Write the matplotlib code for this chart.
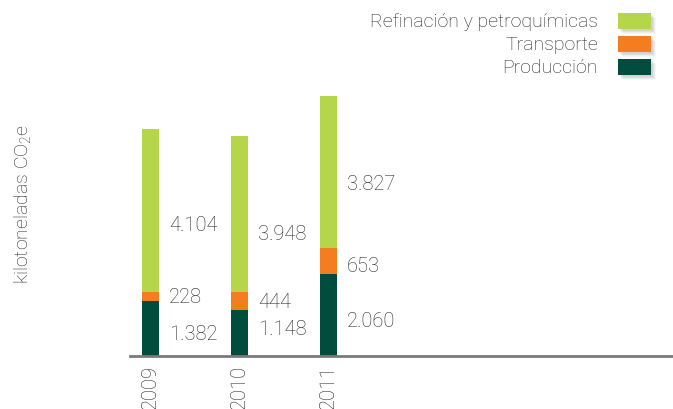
import matplotlib
matplotlib.use('Agg')
import matplotlib.pyplot as plt
from matplotlib.patches import Rectangle
import numpy as np

# Emisiones por año (kilotoneladas CO2e)
years = ['2009', '2010', '2011']
produccion = [1382, 1148, 2060]
transporte = [228, 444, 653]
refinacion = [4104, 3948, 3827]

series_names = ['Producción', 'Transporte', 'Refinación y petroquímicas']
series_values = [produccion, transporte, refinacion]
series_colors = ['#004d3e', '#f47d20', '#b5d54b']

# label nudges (pixels) so the numbers sit a little off the segment centre
label_shift = [[-5, 4, -6], [0, 0, -5], [-14, -20, -12]]

def fmt(v):
    return f'{v:,}'.replace(',', '.')

plt.rcParams['font.family'] = ['Roboto', 'DejaVu Sans']
plt.rcParams['font.weight'] = 'light'
plt.rcParams['mathtext.fontset'] = 'custom'
plt.rcParams['mathtext.rm'] = 'Roboto:light'
plt.rcParams['mathtext.it'] = 'Roboto:light'
text_color = '#262626'

W, H = 673, 410
fig = plt.figure(figsize=(W / 100, H / 100), dpi=100)
ax = fig.add_axes([130 / W, 53.5 / H, (W - 130) / W, 266.5 / H])

x = np.arange(len(years))
bottom = np.zeros(len(years))
for vals, color, shifts in zip(series_values, series_colors, label_shift):
    vals = np.array(vals, dtype=float)
    ax.bar(x, vals, width=0.19, bottom=bottom, color=color, linewidth=0, zorder=2)
    for i, v in enumerate(vals):
        ax.annotate(fmt(int(v)), (x[i] + 0.205, bottom[i] + v / 2),
                    xytext=(0, shifts[i]), textcoords='offset pixels',
                    ha='left', va='center', fontsize=14.5, color=text_color)
    bottom += vals

ax.set_xlim(-0.23, 5.87)
ax.set_ylim(0, 6713)
for side in ['top', 'right', 'left']:
    ax.spines[side].set_visible(False)
ax.spines['bottom'].set_color('#7a7a7a')
ax.spines['bottom'].set_linewidth(2)
ax.spines['bottom'].set_zorder(3)
ax.set_yticks([])
ax.set_xticks(x)
ax.set_xticklabels(years, rotation=90, va='top', fontsize=14.5, color=text_color)
ax.tick_params(axis='x', length=0, pad=6)

fig.text(23 / W, 1 - 204 / H, 'kilotoneladas CO$_2$e', rotation=90,
         ha='center', va='center', fontsize=14, color=text_color)

# legend drawn by hand: labels right-aligned, swatches on the right
leg_y = [22, 45, 68]
for name, color, yc in zip(series_names[::-1], series_colors[::-1], leg_y):
    fig.text(598 / W, 1 - yc / H, name, ha='right', va='center',
             fontsize=14, color=text_color)
    for k, a in enumerate([0.06, 0.05, 0.04, 0.03]):
        fig.patches.append(Rectangle(((618 + 2 + k) / W, 1 - (yc + 8 + 2 + k) / H),
                                     33 / W, 16 / H, transform=fig.transFigure,
                                     facecolor='black', alpha=a, linewidth=0))
    fig.patches.append(Rectangle((618 / W, 1 - (yc + 8) / H), 33 / W, 16 / H,
                                 transform=fig.transFigure, facecolor=color,
                                 linewidth=0))

fig.savefig('out.png', dpi=100)
